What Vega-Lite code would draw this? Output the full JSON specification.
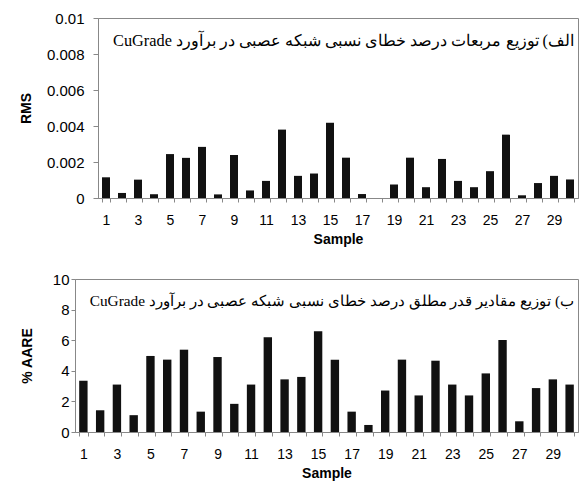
{
  "$schema": "https://vega.github.io/schema/vega-lite/v6.json",
  "background": "white",
  "padding": {"top": 10, "left": 18, "right": 6, "bottom": 5},
  "datasets": {
    "errs": [
      {"sample": 1, "rms": 0.00115, "aare": 3.35},
      {"sample": 2, "rms": 0.00028, "aare": 1.42},
      {"sample": 3, "rms": 0.00102, "aare": 3.1},
      {"sample": 4, "rms": 0.00021, "aare": 1.1},
      {"sample": 5, "rms": 0.00244, "aare": 4.97},
      {"sample": 6, "rms": 0.00223, "aare": 4.73},
      {"sample": 7, "rms": 0.00284, "aare": 5.38},
      {"sample": 8, "rms": 0.0002, "aare": 1.33},
      {"sample": 9, "rms": 0.00239, "aare": 4.9},
      {"sample": 10, "rms": 0.00042, "aare": 1.84},
      {"sample": 11, "rms": 0.00095, "aare": 3.1},
      {"sample": 12, "rms": 0.0038, "aare": 6.19},
      {"sample": 13, "rms": 0.00123, "aare": 3.44},
      {"sample": 14, "rms": 0.00136, "aare": 3.6},
      {"sample": 15, "rms": 0.00418, "aare": 6.59},
      {"sample": 16, "rms": 0.00224, "aare": 4.73},
      {"sample": 17, "rms": 0.00022, "aare": 1.33},
      {"sample": 18, "rms": 0.0, "aare": 0.46},
      {"sample": 19, "rms": 0.00075, "aare": 2.71},
      {"sample": 20, "rms": 0.00224, "aare": 4.73},
      {"sample": 21, "rms": 0.0006, "aare": 2.39},
      {"sample": 22, "rms": 0.00217, "aare": 4.66},
      {"sample": 23, "rms": 0.00095, "aare": 3.1},
      {"sample": 24, "rms": 0.0006, "aare": 2.39},
      {"sample": 25, "rms": 0.00149, "aare": 3.83},
      {"sample": 26, "rms": 0.00352, "aare": 6.02},
      {"sample": 27, "rms": 0.00015, "aare": 0.7},
      {"sample": 28, "rms": 0.00083, "aare": 2.87},
      {"sample": 29, "rms": 0.00123, "aare": 3.44},
      {"sample": 30, "rms": 0.00103, "aare": 3.1}
    ]
  },
  "spacing": 24,
  "vconcat": [
    {
      "bounds": "flush",
      "spacing": 22,
      "hconcat": [
        {
          "width": 1,
          "height": 180,
          "data": {"values": [{"sample": 0}]},
          "mark": {"type": "point", "opacity": 0},
          "view": {"stroke": null}
        },
        {
          "width": 480,
          "height": 180,
          "data": {"name": "errs"},
          "title": {
            "text": "\u202bالف) توزیع مربعات درصد خطای نسبی شبکه عصبی در برآورد CuGrade\u202c",
            "orient": "top", "anchor": "end", "frame": "group", "offset": -38, "dx": -4,
            "font": "Liberation Serif", "fontSize": 16.3, "fontWeight": "normal", "color": "#000000"
          },
          "mark": {"type": "bar", "color": "#111111"},
          "encoding": {
            "x": {
              "field": "sample", "type": "ordinal",
              "scale": {"paddingInner": 0.5, "paddingOuter": 0.25},
              "axis": {
                "title": "Sample", "labelAngle": 0,
                "labelExpr": "datum.value % 2 == 1 ? datum.label : ''",
                "tickBand": "extent", "tickSize": 4, "tickColor": "#888888",
                "domainColor": "#888888", "labelPadding": 11,
                "labelFont": "Liberation Sans", "labelFontSize": 14, "labelColor": "#000000",
                "titleFont": "Liberation Sans", "titleFontSize": 14, "titleFontWeight": "bold", "titleColor": "#000000", "titlePadding": 5
              }
            },
            "y": {
              "field": "rms", "type": "quantitative",
              "scale": {"domain": [0, 0.01], "nice": false},
              "axis": {
                "title": "RMS", "values": [0, 0.002, 0.004, 0.006, 0.008, 0.01], "format": "~g",
                "labelOverlap": false,
                "grid": false, "tickSize": 5, "tickColor": "#888888", "domainColor": "#888888",
                "labelPadding": 9, "labelFont": "Liberation Sans", "labelFontSize": 15, "labelColor": "#000000",
                "titleFont": "Liberation Sans", "titleFontSize": 14, "titleFontWeight": "bold", "titleColor": "#000000", "titlePadding": 13
              }
            }
          }
        }
      ]
    },
    {
      "width": 503,
      "height": 153,
      "data": {"name": "errs"},
      "title": {
        "text": "\u202bب) توزیع مقادیر قدر مطلق درصد خطای نسبی شبکه عصبی در برآورد CuGrade\u202c",
        "orient": "top", "anchor": "end", "frame": "group", "offset": -37, "dx": -4,
        "font": "Liberation Serif", "fontSize": 15.3, "fontWeight": "normal", "color": "#000000"
      },
      "mark": {"type": "bar", "color": "#111111"},
      "encoding": {
        "x": {
          "field": "sample", "type": "ordinal",
          "scale": {"paddingInner": 0.5, "paddingOuter": 0.25},
          "axis": {
            "title": "Sample", "labelAngle": 0,
            "labelExpr": "datum.value % 2 == 1 ? datum.label : ''",
            "tickBand": "extent", "tickSize": 4, "tickColor": "#888888",
            "domainColor": "#888888", "labelPadding": 11,
            "labelFont": "Liberation Sans", "labelFontSize": 14, "labelColor": "#000000",
            "titleFont": "Liberation Sans", "titleFontSize": 14, "titleFontWeight": "bold", "titleColor": "#000000", "titlePadding": 5
          }
        },
        "y": {
          "field": "aare", "type": "quantitative",
          "scale": {"domain": [0, 10], "nice": false},
          "axis": {
            "title": "%  AARE", "values": [0, 2, 4, 6, 8, 10],
            "labelOverlap": false,
            "grid": false, "tickSize": 4, "tickColor": "#888888", "domainColor": "#888888",
            "labelPadding": 2, "labelFont": "Liberation Sans", "labelFontSize": 15, "labelColor": "#000000",
            "titleFont": "Liberation Sans", "titleFontSize": 14, "titleFontWeight": "bold", "titleColor": "#000000", "titlePadding": 18
          }
        }
      }
    }
  ],
  "config": {
    "view": {"stroke": "#888888", "strokeWidth": 1},
    "axisY": {"labelOverlap": false}
  }
}
